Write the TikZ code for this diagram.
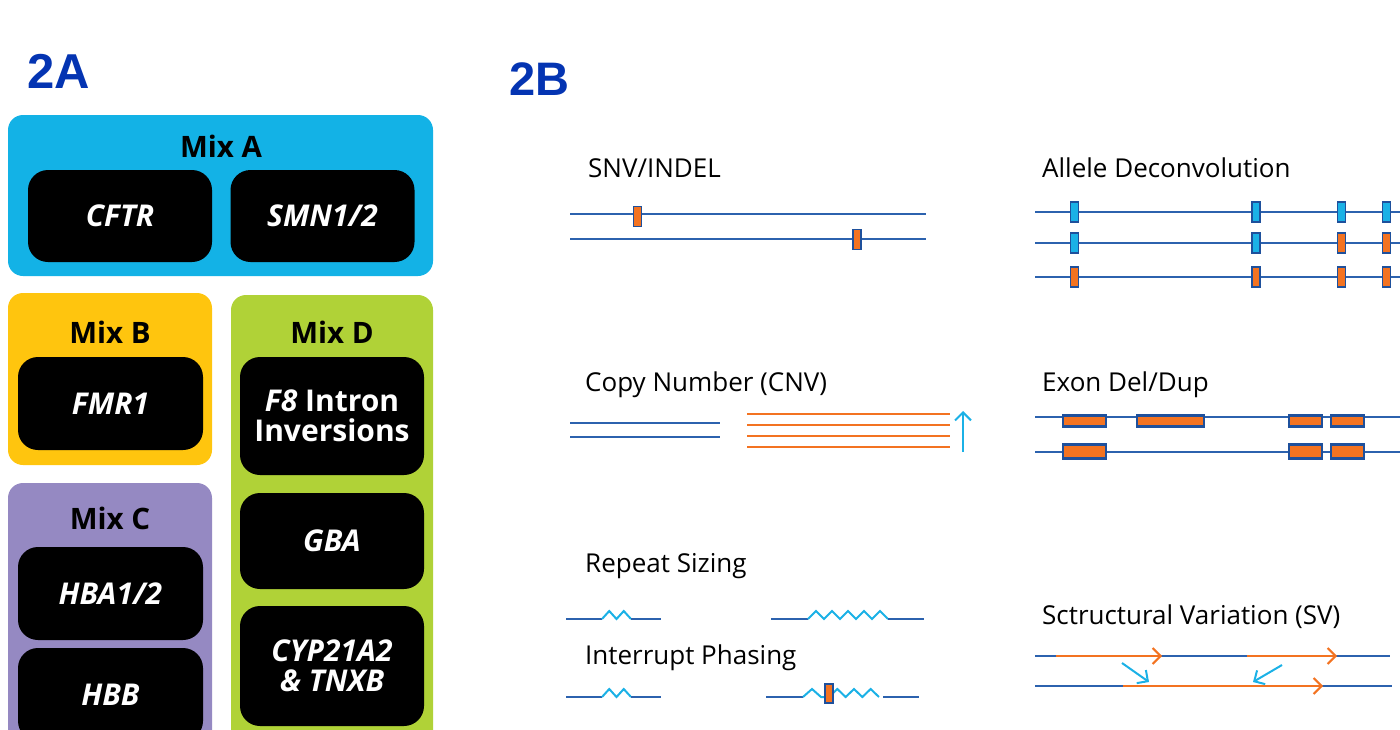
\documentclass[tikz,border=0pt]{standalone}
\usepackage{fontspec}
\setmainfont{Open Sans}
\newfontfamily\panelfont{Liberation Sans}
\usetikzlibrary{arrows.meta}
\definecolor{panelblue}{RGB}{4,52,178}
\definecolor{mixa}{RGB}{19,178,230}
\definecolor{mixb}{RGB}{255,197,14}
\definecolor{mixc}{RGB}{149,137,194}
\definecolor{mixd}{RGB}{176,210,55}
\definecolor{strandblue}{RGB}{44,98,174}
\definecolor{edgeblue}{RGB}{30,80,156}
\definecolor{varorange}{RGB}{243,115,33}
\definecolor{refcyan}{RGB}{27,177,230}
\tikzset{
  mixbox/.style={rounded corners=15pt,inner sep=0pt},
  mixtitle/.style={anchor=base,inner sep=0pt,font=\fontsize{29.5}{34}\selectfont\bfseries},
  genebox/.style={fill=black,rounded corners=20pt,text=white,align=center,inner sep=0pt,
    minimum width=184pt,font=\fontsize{30}{29.5}\selectfont\bfseries\itshape},
  label2b/.style={anchor=base west,inner sep=0pt,font=\fontsize{26}{29}\selectfont},
  strand/.style={draw=strandblue,line width=2pt},
  altbox/.style={draw=edgeblue,fill=varorange,line width=1.8pt,inner sep=0pt,
    minimum width=8pt,minimum height=20pt},
  refbox/.style={altbox,fill=refcyan},
  exonbox/.style={draw=edgeblue,fill=varorange,line width=2.6pt,inner sep=0pt},
  repeats/.style={draw=refcyan,line width=2pt},
  svarrow/.style={draw=varorange,line width=2pt,-{Straight Barb[length=8pt,width=16pt]}},
  jumparrow/.style={draw=refcyan,line width=2pt,-{Straight Barb[length=8pt,width=16pt]}}
}
\begin{document}
\begin{tikzpicture}[x=1pt,y=-1pt]
\useasboundingbox (0,0) rectangle (1400,729);
\clip (0,0) rectangle (1400,729);

% panel 2A
\node[anchor=base west,inner sep=0pt,text=panelblue,font=\panelfont\fontsize{49}{55}\selectfont\bfseries] (titleA) at (27,88) {2A};
\node[anchor=base west,inner sep=0pt,text=panelblue,font=\panelfont\fontsize{47}{55}\selectfont\bfseries] (titleB) at (509,95) {2B};

\node[mixbox,fill=mixa,minimum width=425pt,minimum height=161pt] (mixA) at (220.5,195.5) {};
\node[mixtitle] (mixAT) at (221,157) {Mix A};
\node[genebox,minimum height=92pt] (cftr) at (120,216) {CFTR};
\node[genebox,minimum height=92pt] (smn) at (322.5,216) {SMN1/2};

\node[mixbox,fill=mixb,minimum width=204pt,minimum height=172pt] (mixB) at (110,379) {};
\node[mixtitle] (mixBT) at (110,343) {Mix B};
\node[genebox,minimum width=185pt,minimum height=93pt] (fmr) at (110.5,403.5) {FMR1};

\node[mixbox,fill=mixc,minimum width=204pt,minimum height=297pt] (mixC) at (110,631.5) {};
\node[mixtitle] (mixCT) at (110,529) {Mix C};
\node[genebox,minimum width=185pt,minimum height=93pt] (hba) at (110.5,593.5) {HBA1/2};
\node[genebox,minimum width=185pt,minimum height=93pt] (hbb) at (110.5,694.5) {HBB};

\node[mixbox,fill=mixd,minimum width=202pt,minimum height=485pt] (mixD) at (332,537.5) {};
\node[mixtitle] (mixDT) at (332,343) {Mix D};
\node[genebox,minimum height=118pt] (f8) at (332,416) {F8 {\upshape Intron}\\{\upshape Inversions}};
\node[genebox,minimum height=96pt] (gba) at (332,541) {GBA};
\node[genebox,minimum height=120pt] (cyp) at (332,666) {CYP21A2\\\& TNXB};

% panel 2B: SNV/INDEL
\node[label2b] (snvT) at (588,177) {SNV/INDEL};
\draw[strand] (570,214) -- (926,214);
\draw[strand] (570,239) -- (926,239);
\node[altbox] (snv1) at (637.5,216.5) {};
\node[altbox] (snv2) at (857,239.5) {};

% allele deconvolution
\node[label2b] (adT) at (1042,177) {Allele Deconvolution};
\foreach \y in {212,243,277} \draw[strand] (1035,\y) -- (1410,\y);
\foreach \x [count=\i] in {1074.5,1256,1341.5,1386.5} {
  \node[refbox] (ad1-\i) at (\x,212) {};
  \node[altbox] (ad3-\i) at (\x,277) {};
}
\node[refbox] (ad2-1) at (1074.5,243) {};
\node[refbox] (ad2-2) at (1256,243) {};
\node[altbox] (ad2-3) at (1341.5,243) {};
\node[altbox] (ad2-4) at (1386.5,243) {};

% copy number
\node[label2b] (cnvT) at (585,391) {Copy Number (CNV)};
\draw[strand] (570,423) -- (720,423);
\draw[strand] (570,437) -- (720,437);
\foreach \y in {414,425,436,447} \draw[draw=varorange,line width=2pt] (747,\y) -- (950,\y);
\draw[jumparrow] (963,452) -- (963,411);

% exon del/dup
\node[label2b] (exT) at (1042,391) {Exon Del/Dup};
\draw[strand] (1035,417) -- (1410,417);
\draw[strand] (1035,452) -- (1410,452);
\node[exonbox,minimum width=43pt,minimum height=11pt] (ex1) at (1084.5,421) {};
\node[exonbox,minimum width=67pt,minimum height=11pt] (ex2) at (1170.5,421) {};
\node[exonbox,minimum width=33pt,minimum height=11pt] (ex3) at (1305.5,421) {};
\node[exonbox,minimum width=33pt,minimum height=11pt] (ex4) at (1347.5,421) {};
\node[exonbox,minimum width=43pt,minimum height=14pt] (ex5) at (1084.5,451.5) {};
\node[exonbox,minimum width=33pt,minimum height=14pt] (ex6) at (1305.5,451.5) {};
\node[exonbox,minimum width=33pt,minimum height=14pt] (ex7) at (1347.5,451.5) {};

% repeat sizing
\node[label2b] (rsT) at (585,572) {Repeat Sizing};
\draw[strand] (566,619) -- (602,619);
\draw[repeats] (602,619) \foreach \i in {1,2} { -- ++(7.25,-8) -- ++(7.25,8) };
\draw[strand] (631,619) -- (661,619);
\draw[strand] (771,619) -- (808,619);
\draw[repeats] (808,619) \foreach \i in {1,...,5} { -- ++(8,-8) -- ++(8,8) };
\draw[strand] (888,619) -- (924,619);

% interrupt phasing
\node[label2b] (ipT) at (585,664) {Interrupt Phasing};
\draw[strand] (566,697) -- (602,697);
\draw[repeats] (602,697) \foreach \i in {1,2} { -- ++(7.25,-8) -- ++(7.25,8) };
\draw[strand] (631,697) -- (661,697);
\draw[strand] (766,697) -- (803,697);
\draw[repeats] (803,697) -- ++(9,-8) -- ++(9,8) -- (829,697);
\draw[repeats] (829,697) \foreach \i in {1,2,3} { -- ++(8.33,-8) -- ++(8.33,8) };
\draw[strand] (883,697) -- (919,697);
\node[altbox,minimum height=19pt] (ip1) at (829,693.5) {};

% structural variation
\node[label2b] (svT) at (1042,624) {Sctructural Variation (SV)};
\draw[strand] (1035,656) -- (1390,656);
\draw[strand] (1035,686) -- (1392,686);
\coordinate (sv1a) at (1056,656);
\coordinate (sv1b) at (1162,656);
\coordinate (sv2a) at (1247,656);
\coordinate (sv2b) at (1337,656);
\coordinate (sv3a) at (1123,686);
\coordinate (sv3b) at (1323,686);
\draw[svarrow] (sv1a) -- (sv1b);
\draw[svarrow] (sv2a) -- (sv2b);
\draw[svarrow] (sv3a) -- (sv3b);
\draw[jumparrow] (1122,663) -- (1149,682);
\draw[jumparrow] (1282,665) -- (1253,682);
\end{tikzpicture}
\end{document}
